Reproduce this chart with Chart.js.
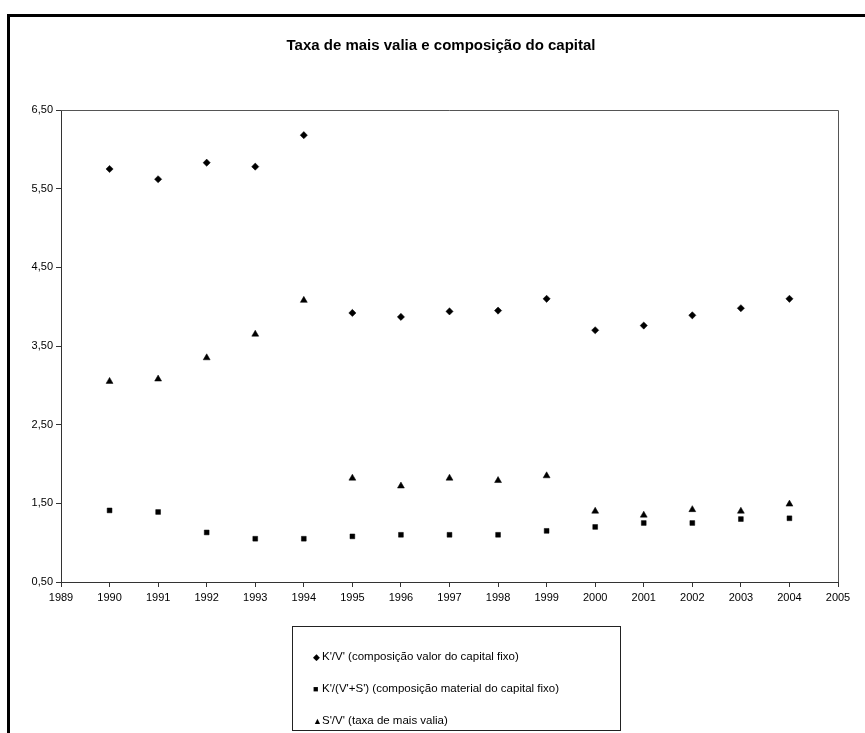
<!DOCTYPE html>
<html>
<head>
<meta charset="utf-8">
<script src="https://cdn.jsdelivr.net/npm/chart.js@4/dist/chart.umd.min.js"></script>
<style>
  html, body { margin: 0; padding: 0; background: #fff; }
  #wrap { position: relative; width: 865px; height: 733px; overflow: hidden; }
  #frame { position: absolute; left: 7px; top: 14px; width: 900px; height: 800px;
           border-left: 3px solid #000; border-top: 3px solid #000; box-sizing: border-box; }
  canvas { position: absolute; left: 0; top: 0; }
  #title { position: absolute; left: 241px; top: 36px; width: 400px; text-align: center;
           font-family: 'Liberation Sans', Arial, sans-serif; font-size: 15px; font-weight: bold;
           color: #000; line-height: 18px; white-space: nowrap; }
  #legend { position: absolute; left: 292px; top: 626px; width: 329px; height: 105px;
            border: 1px solid #222; box-sizing: border-box; font-family: 'Liberation Sans', Arial, sans-serif;
            font-size: 11.5px; color: #000; padding-top: 22px; padding-left: 20px; }
  #legend div { height: 32px; line-height: 14px; white-space: nowrap; }
  #legend span.m { display: inline-block; width: 8px; font-size: 9px; margin-right: 1px; }
</style>
</head>
<body>
<div id="wrap">
  <div id="frame"></div>
  <canvas id="c" width="865" height="733"></canvas>
  <div id="title"></div>
  <div id="legend"></div>
</div>
<script>
const titleText = 'Taxa de mais valia e composição do capital';
const years = [1990, 1991, 1992, 1993, 1994, 1995, 1996, 1997, 1998, 1999, 2000, 2001, 2002, 2003, 2004];
const seriesNames = [
  "K'/V' (composição valor do capital fixo)",
  "K'/(V'+S') (composição material do capital fixo)",
  "S'/V' (taxa de mais valia)"
];
const kv  = [5.75, 5.62, 5.83, 5.78, 6.18, 3.92, 3.87, 3.94, 3.95, 4.10, 3.70, 3.76, 3.89, 3.98, 4.10];
const kvs = [1.41, 1.39, 1.13, 1.05, 1.05, 1.08, 1.10, 1.10, 1.10, 1.15, 1.20, 1.25, 1.25, 1.30, 1.31];
const sv  = [3.05, 3.08, 3.35, 3.65, 4.08, 1.82, 1.72, 1.82, 1.79, 1.85, 1.40, 1.35, 1.42, 1.40, 1.49];
const xMin = 1989, xMax = 2005;
const yMin = 0.5, yMax = 6.5;

const FONT = "'Liberation Sans', Arial, sans-serif";
const pts = (vals) => years.map((y, i) => ({ x: y, y: vals[i] }));

const styles = [
  { pointStyle: 'rectRot', pointRadius: 3.6, marker: '◆' },
  { pointStyle: 'rect', pointRadius: 3.4, marker: '■' },
  { pointStyle: 'triangle', pointRadius: 4, marker: '▲' }
];
const allVals = [kv, kvs, sv];

const frameBorder = {
  id: 'frameBorder',
  afterDraw(chart) {
    const { ctx, chartArea: a } = chart;
    ctx.save();
    ctx.strokeStyle = '#555';
    ctx.lineWidth = 1;
    ctx.beginPath();
    ctx.moveTo(a.left, a.top + 0.5);
    ctx.lineTo(a.right + 0.5, a.top + 0.5);
    ctx.lineTo(a.right + 0.5, a.bottom);
    ctx.stroke();
    ctx.restore();
  }
};

document.getElementById('title').textContent = titleText;

new Chart(document.getElementById('c'), {
  type: 'scatter',
  data: {
    datasets: seriesNames.map((name, i) => ({
      label: name,
      data: pts(allVals[i]),
      pointStyle: styles[i].pointStyle,
      pointRadius: styles[i].pointRadius,
      backgroundColor: '#000',
      borderColor: '#000',
      borderWidth: 0.5,
      showLine: false
    }))
  },
  options: {
    responsive: false,
    animation: false,
    layout: { padding: { left: 24, right: 27, top: 110, bottom: 121 } },
    plugins: {
      legend: { display: false },
      tooltip: { enabled: false },
      title: { display: false }
    },
    scales: {
      x: {
        type: 'linear',
        min: xMin, max: xMax,
        border: { display: true, color: '#333', width: 1 },
        grid: { display: true, drawOnChartArea: false, drawTicks: true, tickLength: 5, color: '#333' },
        ticks: { stepSize: 1, color: '#000', font: { family: FONT, size: 11 }, padding: 4,
                 callback: (v) => String(v), maxRotation: 0, autoSkip: false },
        afterFit: (s) => { s.height = 30; }
      },
      y: {
        min: yMin, max: yMax,
        border: { display: true, color: '#333', width: 1 },
        grid: { display: true, drawOnChartArea: false, drawTicks: true, tickLength: 5, color: '#333' },
        ticks: { stepSize: 1, color: '#000', font: { family: FONT, size: 11 }, padding: 3,
                 callback: (v) => v.toFixed(2).replace('.', ',') },
        afterFit: (s) => { s.width = 37; }
      }
    }
  },
  plugins: [frameBorder]
});

const leg = document.getElementById('legend');
seriesNames.forEach((name, i) => {
  const d = document.createElement('div');
  const m = document.createElement('span');
  m.className = 'm';
  m.textContent = styles[i].marker;
  d.appendChild(m);
  d.appendChild(document.createTextNode(name));
  leg.appendChild(d);
});
</script>
</body>
</html>
